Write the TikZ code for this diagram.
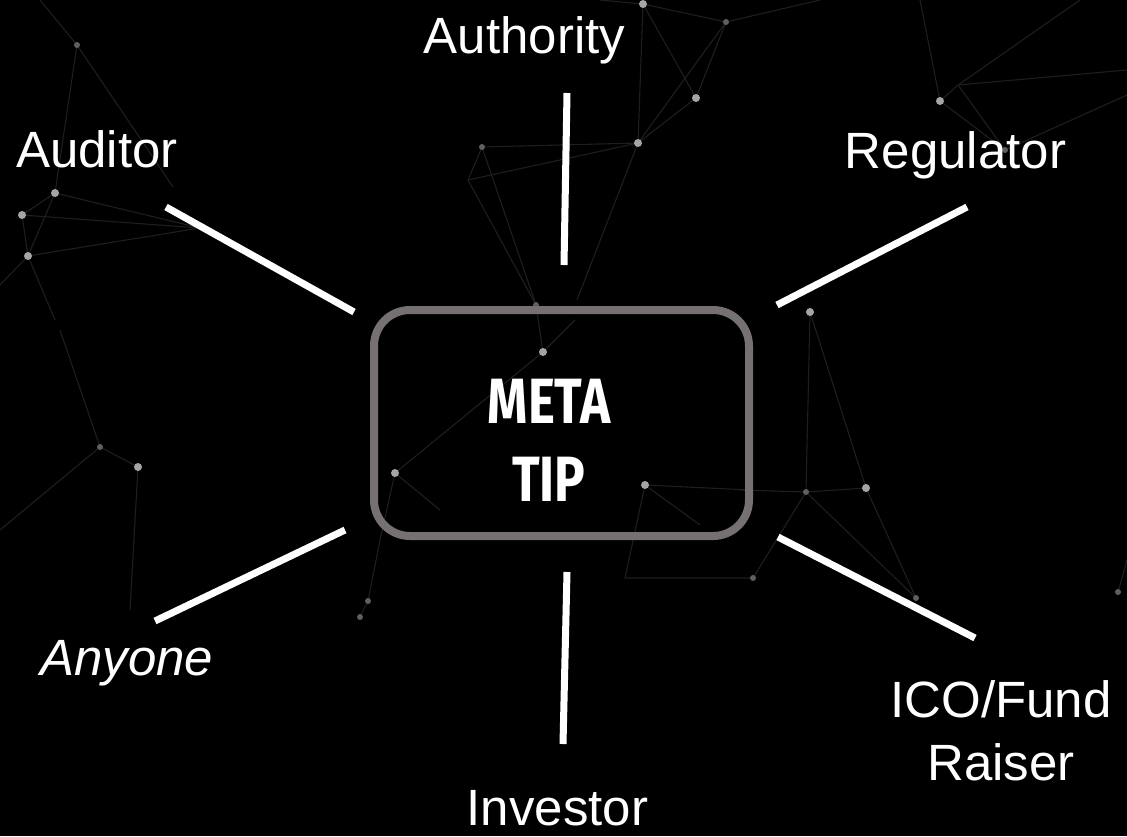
\documentclass[tikz,border=0pt]{standalone}
\usepackage{fontspec}
\setmainfont{Liberation Sans}
\newfontfamily\metafont{Fira Sans}[FakeStretch=0.8]
\definecolor{boxgray}{RGB}{118,112,112}
\definecolor{netgray}{RGB}{30,30,30}
\definecolor{dotgray}{RGB}{165,165,165}
\definecolor{dimdot}{RGB}{95,95,95}
\begin{document}
\begin{tikzpicture}[x=1pt,y=-1pt,
  lbl/.style={text=white, font=\fontsize{51}{63}\selectfont, inner sep=0pt},
  conn/.style={draw=white, line width=7pt},
  net/.style={draw=netgray, line width=1.1pt},
  bigdot/.style={fill=dotgray, draw=none},
  smalldot/.style={fill=dimdot, draw=none}]
\path[use as bounding box, fill=black] (0,0) rectangle (1127,836);

% faint background network
\draw[net] (643,4)--(726,22)--(696,98)--(638,143)--(643,4)--(696,98);
\draw[net] (726,22)--(638,143);
\draw[net] (643,4)--(600,0); \draw[net] (726,22)--(820,0);
\draw[net] (638,143)--(482,147)--(468,180)--(536,305);
\draw[net] (638,143)--(468,180);
\draw[net] (482,147)--(536,305);
\draw[net] (638,143)--(577,300);
\draw[net] (536,305)--(543,352)--(575,320);
\draw[net] (77,45)--(40,0); \draw[net] (77,45)--(55,193); \draw[net] (77,45)--(173,187);
\draw[net] (55,193)--(22,215)--(28,256)--(55,193)--(200,228);
\draw[net] (22,215)--(200,228); \draw[net] (28,256)--(200,228);
\draw[net] (28,256)--(0,285); \draw[net] (28,256)--(55,320);
\draw[net] (100,447)--(60,330); \draw[net] (100,447)--(138,467);
\draw[net] (100,447)--(0,530); \draw[net] (138,467)--(130,610);
\draw[net] (395,473)--(380,540)--(368,601)--(360,617);
\draw[net] (395,473)--(440,510); \draw[net] (395,473)--(543,352);
\draw[net] (645,485)--(750,490); \draw[net] (645,485)--(700,525);
\draw[net] (645,485)--(625,578)--(753,578);
\draw[net] (810,312)--(806,492)--(866,488)--(810,312);
\draw[net] (806,492)--(753,578); \draw[net] (866,488)--(916,598);
\draw[net] (806,492)--(916,598); \draw[net] (806,492)--(740,490);
\draw[net] (1118,592)--(1127,560);
\draw[net] (940,101)--(920,0); \draw[net] (940,101)--(958,85)--(1080,0);
\draw[net] (958,85)--(1005,150); \draw[net] (940,101)--(1005,150);
\draw[net] (1005,150)--(1127,95); \draw[net] (958,85)--(1127,70);
\foreach \p in {(643,4),(696,98),(638,143),(543,352),(55,193),(22,215),(28,256),(940,101),(810,312),(866,488),(645,485),(395,473),(138,467)}
  \fill[bigdot] \p circle (4);
\foreach \p in {(726,22),(482,147),(536,305),(77,45),(1005,150),(100,447),(806,492),(753,578),(368,601),(916,598),(360,617),(1118,592)}
  \fill[smalldot] \p circle (3);

% central box
\node[draw=boxgray, line width=8pt, rounded corners=36pt, minimum width=375pt,
      minimum height=226pt, inner sep=0pt] (box) at (561.5,423) {};
\node[text=white, inner sep=0pt, anchor=base, align=center,
      font=\metafont\bfseries\fontsize{64}{78}\selectfont] (meta) at (549,501) {META\\TIP};

% labels
\node[lbl, anchor=base] (authority) at (524.5,53) {Authority};
\node[lbl, anchor=base west] (auditor) at (16,167) {Auditor};
\node[lbl, anchor=base] (regulator) at (955.5,168) {Regulator};
\node[text=white, inner sep=0pt, anchor=base west,
      font=\fontsize{51}{63}\selectfont\itshape] (anyone) at (40,675) {Anyone};
\node[lbl, anchor=base, align=center] (ico) at (1001,780) {ICO/Fund\\Raiser};
\node[lbl, anchor=base] (investor) at (557.5,825) {Investor};

% connectors
\coordinate (a1) at (567,93);  \coordinate (a2) at (564,265);
\coordinate (b1) at (166,207); \coordinate (b2) at (354,312);
\coordinate (c1) at (967,207); \coordinate (c2) at (777,305);
\coordinate (d1) at (345,530); \coordinate (d2) at (155,621);
\coordinate (e1) at (778,537); \coordinate (e2) at (975,638);
\coordinate (f1) at (567,572); \coordinate (f2) at (563,744);
\draw[conn] (a2) -- (a1);
\draw[conn] (b2) -- (b1);
\draw[conn] (c2) -- (c1);
\draw[conn] (d1) -- (d2);
\draw[conn] (e1) -- (e2);
\draw[conn] (f1) -- (f2);
\end{tikzpicture}
\end{document}
